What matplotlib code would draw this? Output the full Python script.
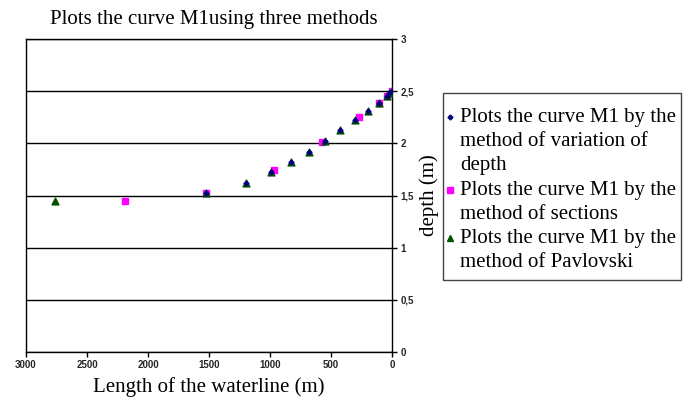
import matplotlib.pyplot as plt
from matplotlib.patches import Rectangle

# Data
depth_x = [0, 22, 43, 107, 194, 301, 424, 547, 680, 828, 994, 1199, 1525]
depth_y = [2.50, 2.48, 2.455, 2.39, 2.31, 2.224, 2.13, 2.026, 1.92, 1.825, 1.73, 1.62, 1.527]

sect_x = [0, 43, 107, 270, 574, 970, 1525, 2186]
sect_y = [2.50, 2.455, 2.39, 2.25, 2.01, 1.745, 1.527, 1.45]

pav_x = [0, 22, 43, 107, 194, 301, 424, 547, 680, 828, 994, 1199, 1525, 2762]
pav_y = [2.50, 2.48, 2.455, 2.39, 2.31, 2.224, 2.13, 2.026, 1.92, 1.825, 1.73, 1.62, 1.527, 1.45]

labels = ["Plots the curve M1 by the\nmethod of variation of\ndepth",
          "Plots the curve M1 by the\nmethod of sections",
          "Plots the curve M1 by the\nmethod of Pavlovski"]

serif = 'Liberation Serif'
sans = 'Liberation Sans'

fig = plt.figure(figsize=(6.94, 3.99), dpi=100)
ax = fig.add_axes([26/694, 47/399, 366/694, 313/399])

ax.scatter(sect_x, sect_y, marker='s', s=22, color='#ff00ff', zorder=3)
ax.scatter(pav_x, pav_y, marker='^', s=24, color='#005000', zorder=4)
ax.scatter(depth_x, depth_y, marker='D', s=6, color='#000080', zorder=5)

ax.set_xlim(3000, 0)
ax.set_ylim(0, 3)
ax.set_xticks([3000, 2500, 2000, 1500, 1000, 500, 0])
ax.set_yticks([0, 0.5, 1, 1.5, 2, 2.5, 3])
ax.set_yticklabels(['0', '0,5', '1', '1,5', '2', '2,5', '3'])
ax.yaxis.tick_right()
ax.yaxis.set_label_position('right')
ax.tick_params(axis='both', direction='out', length=3.5, width=1, color='black',
               labelsize=7, pad=2.5)
for lab in ax.get_xticklabels() + ax.get_yticklabels():
    lab.set_fontfamily(sans)
    lab.set_fontweight('bold')
    lab.set_color('#262626')

ax.grid(True, axis='y', color='black', linewidth=1)
for s in ax.spines.values():
    s.set_color('black')
    s.set_linewidth(1)

ax.set_title('Plots the curve M1using three methods', fontsize=15, fontfamily=serif,
             pad=11, x=0.513)
ax.set_xlabel('Length of the waterline (m)', fontsize=15, fontfamily=serif, labelpad=5)
ax.set_ylabel('depth (m)', fontsize=15, fontfamily=serif, labelpad=4)

# Legend drawn by hand so the marker sits on the first line of each entry
W, H = 694, 399
fig.patches.append(Rectangle((443/W, 1 - 280/H), 238/W, 187/H, transform=fig.transFigure,
                             fill=False, edgecolor='#444444', linewidth=1))
markers = [('D', '#000080', 2.5), ('s', '#ff00ff', 4), ('^', '#005000', 4)]
line_h = 24.2
y = 117
for (m, c, ms), lab in zip(markers, labels):
    fig.add_artist(plt.Line2D([450/W], [1 - y/H], marker=m, color=c, markersize=ms,
                              linestyle='none', transform=fig.transFigure))
    fig.text(460/W, 1 - (y - 9)/H, lab, fontsize=15, fontfamily=serif,
             va='top', ha='left', linespacing=1.36)
    y += line_h * (lab.count('\n') + 1)

fig.savefig('out.png', dpi=100)
